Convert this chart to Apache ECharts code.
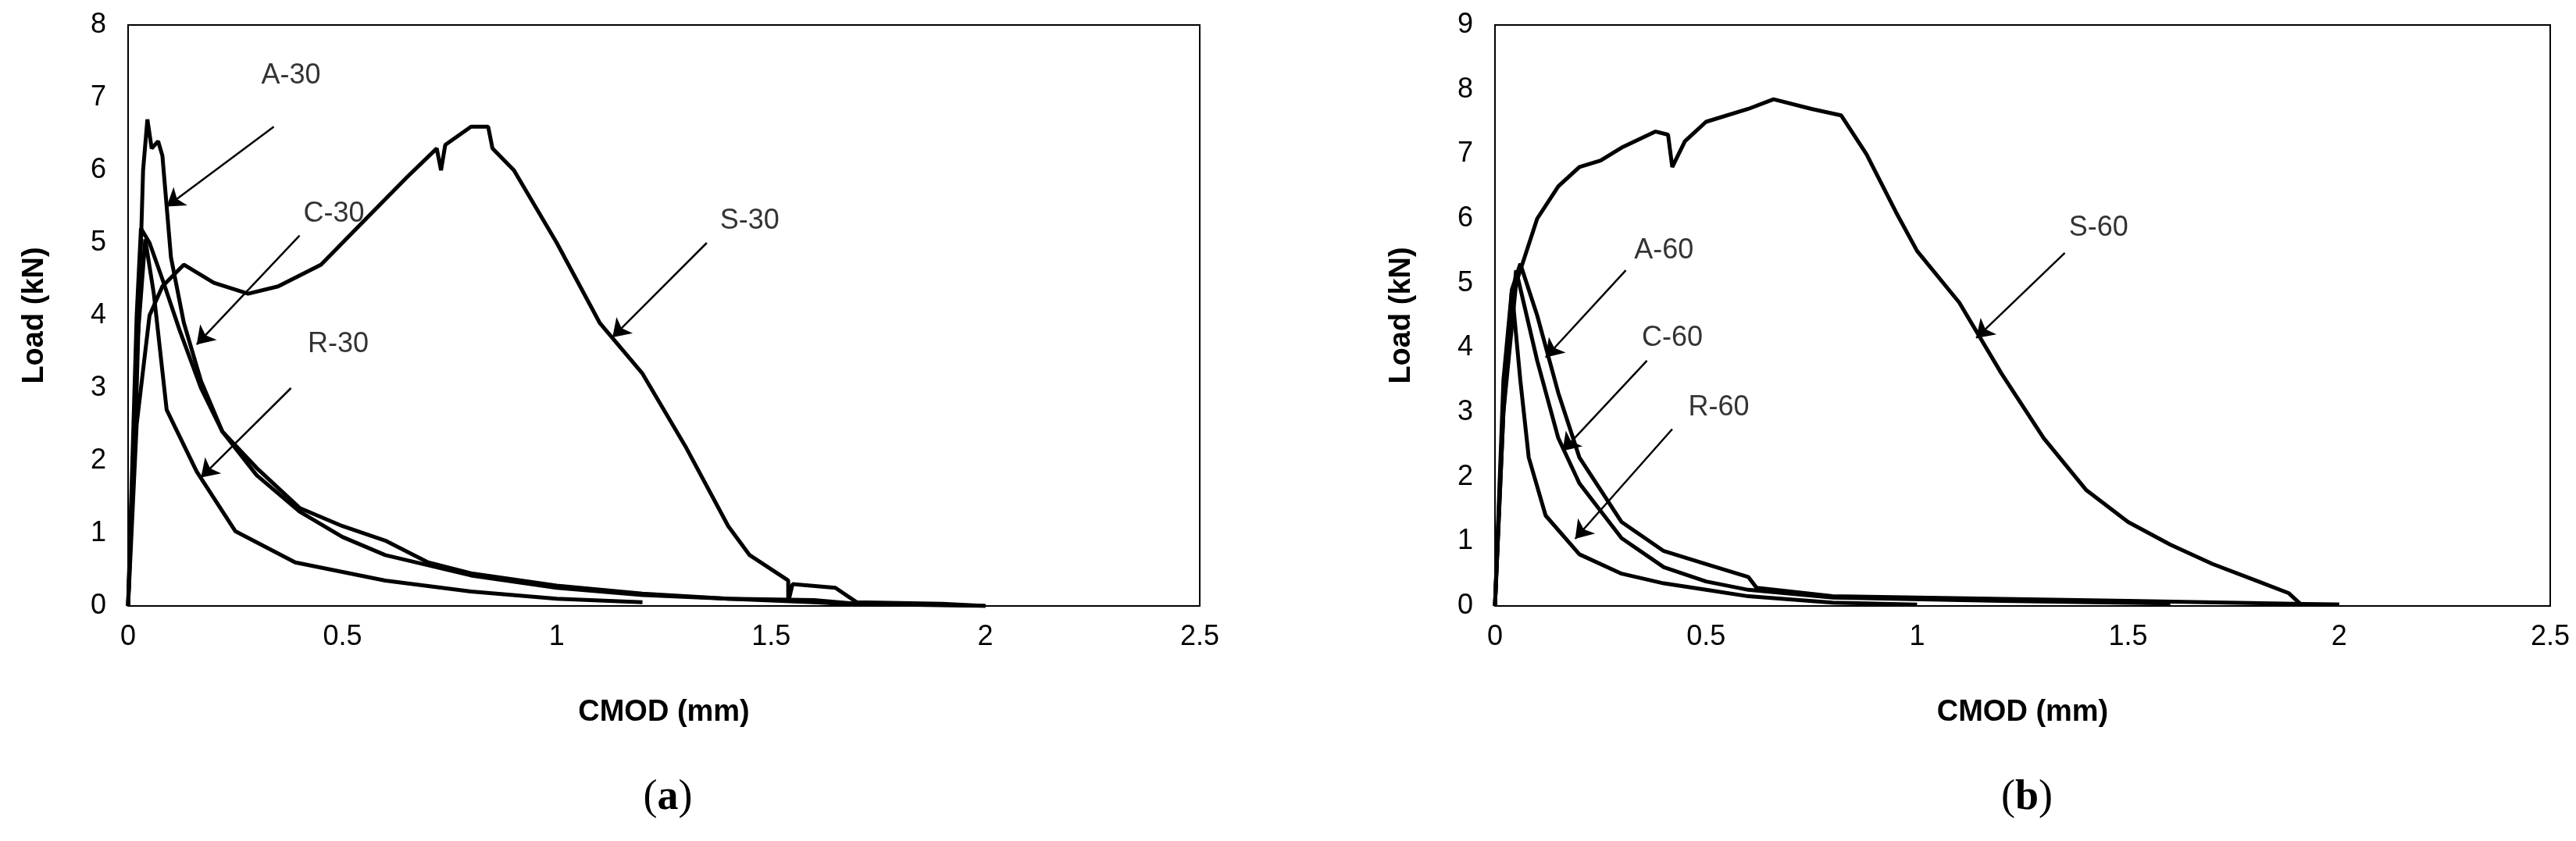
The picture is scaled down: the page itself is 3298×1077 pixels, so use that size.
<!DOCTYPE html>
<html>
<head>
<meta charset="utf-8">
<script src="https://cdn.jsdelivr.net/npm/echarts@6/dist/echarts.min.js"></script>
<style>html,body{margin:0;padding:0;background:#fff}#chart{width:3298px;height:1077px}</style>
</head>
<body>
<div id="chart"></div>
<script>
// panel (a): CMOD (mm), Load (kN)
let a30 = [[0,0],[0.02,3],[0.035,6],[0.045,6.7],[0.055,6.3],[0.07,6.4],[0.08,6.2],[0.09,5.5],[0.1,4.8],[0.13,3.9],[0.17,3.1],[0.22,2.4],[0.3,1.9],[0.4,1.35],[0.5,1.1],[0.6,0.9],[0.7,0.6],[0.8,0.45],[1.0,0.28],[1.2,0.17],[1.4,0.1],[1.6,0.08],[1.7,0.03],[2.0,0]];
let c30 = [[0,0],[0.02,4],[0.03,5.2],[0.05,5.0],[0.08,4.5],[0.12,3.8],[0.17,3.0],[0.22,2.4],[0.3,1.8],[0.4,1.3],[0.5,0.95],[0.6,0.7],[0.8,0.42],[1.0,0.25],[1.2,0.15],[1.4,0.1],[1.6,0.05],[1.7,0.02]];
let r30 = [[0,0],[0.02,3.5],[0.04,5.05],[0.06,4.3],[0.09,2.7],[0.16,1.85],[0.25,1.03],[0.39,0.6],[0.6,0.35],[0.8,0.2],[1.0,0.1],[1.2,0.05]];
let s30 = [[0,0],[0.02,2.5],[0.05,4.0],[0.08,4.4],[0.13,4.7],[0.2,4.45],[0.28,4.3],[0.35,4.4],[0.45,4.7],[0.55,5.3],[0.65,5.9],[0.72,6.3],[0.73,6.0],[0.74,6.35],[0.8,6.6],[0.84,6.6],[0.85,6.3],[0.9,6.0],[1.0,5.0],[1.1,3.9],[1.2,3.2],[1.3,2.2],[1.4,1.1],[1.45,0.7],[1.54,0.35],[1.54,0.05],[1.55,0.3],[1.65,0.25],[1.7,0.05],[1.9,0.03],[2.0,0]];
// panel (b)
let a60 = [[0,0],[0.02,3],[0.04,4.9],[0.06,5.3],[0.1,4.5],[0.15,3.3],[0.2,2.3],[0.3,1.3],[0.4,0.85],[0.5,0.65],[0.6,0.45],[0.62,0.28],[0.8,0.15],[1.0,0.13],[1.5,0.08],[2.0,0.02]];
let c60 = [[0,0],[0.02,3.2],[0.05,5.2],[0.1,3.8],[0.15,2.6],[0.2,1.9],[0.3,1.05],[0.4,0.6],[0.5,0.38],[0.6,0.25],[0.8,0.13],[1.2,0.08],[1.6,0.04]];
let r60 = [[0,0],[0.02,3.5],[0.04,4.9],[0.06,3.5],[0.08,2.3],[0.12,1.4],[0.2,0.8],[0.3,0.5],[0.4,0.35],[0.5,0.25],[0.6,0.15],[0.8,0.05],[1.0,0.02]];
let s60 = [[0,0],[0.02,3],[0.05,5],[0.1,6.0],[0.15,6.5],[0.2,6.8],[0.25,6.9],[0.3,7.1],[0.38,7.35],[0.41,7.3],[0.42,6.8],[0.45,7.2],[0.5,7.5],[0.6,7.7],[0.66,7.85],[0.75,7.7],[0.82,7.6],[0.88,7.0],[0.95,6.1],[1.0,5.5],[1.1,4.7],[1.2,3.6],[1.3,2.6],[1.4,1.8],[1.5,1.3],[1.6,0.95],[1.7,0.65],[1.8,0.4],[1.88,0.2],[1.91,0.02],[2.0,0.02]];

// annotations: [label, textX, textY, fromX, fromY, toX, toY]
let notesA = [['A-30',0.38,7.3,0.34,6.6,0.09,5.5],['C-30',0.48,5.4,0.40,5.1,0.16,3.6],['S-30',1.45,5.3,1.35,5.0,1.13,3.7],['R-30',0.49,3.6,0.38,3.0,0.17,1.77]];
let notesB = [['A-60',0.40,5.5,0.31,5.2,0.12,3.85],['C-60',0.42,4.15,0.36,3.8,0.16,2.4],['R-60',0.53,3.07,0.42,2.74,0.19,1.04],['S-60',1.43,5.85,1.35,5.47,1.14,4.15]];

let chart = echarts.init(document.getElementById('chart'));
let tickFont = {fontFamily: 'Liberation Sans Narrow, Liberation Sans, sans-serif', fontSize: 36, color: '#000'};
let nameFont = {fontFamily: 'Liberation Sans, sans-serif', fontSize: 38, fontWeight: 'bold', color: '#000'};

function curve(data, idx) {
  return {type: 'line', data: data, xAxisIndex: idx, yAxisIndex: idx, symbol: 'none',
          lineStyle: {color: '#000', width: 5}, silent: true};
}
function notes(list, idx) {
  return [{
    type: 'scatter', xAxisIndex: idx, yAxisIndex: idx, symbolSize: 0, silent: true,
    data: list.map(n => ({value: [n[1], n[2]], name: n[0]})),
    label: {show: true, formatter: '{b}', position: 'inside', fontFamily: 'Liberation Sans, sans-serif', fontSize: 36, color: '#000'}
  }, {
    type: 'line', xAxisIndex: idx, yAxisIndex: idx, data: [], silent: true,
    markLine: {silent: true, symbol: ['none', 'arrow'], symbolSize: 22, animation: false,
      lineStyle: {color: '#000', width: 2.5, type: 'solid'}, label: {show: false},
      data: list.map(n => [{coord: [n[3], n[4]]}, {coord: [n[5], n[6]]}])}
  }];
}
function yAxis(idx, max) {
  return {type: 'value', gridIndex: idx, min: 0, max: max, interval: 1,
    name: 'Load (kN)', nameLocation: 'middle', nameGap: 100, nameTextStyle: nameFont,
    axisLine: {show: true, lineStyle: {color: '#000', width: 2}}, axisTick: {show: false},
    splitLine: {show: false}, axisLabel: Object.assign({margin: 28}, tickFont)};
}
function xAxis(idx) {
  return {type: 'value', gridIndex: idx, min: 0, max: 2.5, interval: 0.5,
    name: 'CMOD (mm)', nameLocation: 'middle', nameGap: 118, nameTextStyle: nameFont,
    axisLine: {show: true, lineStyle: {color: '#000', width: 2}}, axisTick: {show: false},
    splitLine: {show: false}, axisLabel: Object.assign({margin: 22}, tickFont)};
}

chart.setOption({
  animation: false,
  backgroundColor: '#fff',
  title: [
    {text: '({b|a})', left: 850, top: 990, textAlign: 'center',
     textStyle: {fontFamily: 'Liberation Serif, serif', fontSize: 54, fontWeight: 'normal', color: '#000',
       rich: {b: {fontFamily: 'Liberation Serif, serif', fontSize: 54, fontWeight: 'bold', color: '#000'}}}},
    {text: '({b|b})', left: 2590, top: 990, textAlign: 'center',
     textStyle: {fontFamily: 'Liberation Serif, serif', fontSize: 54, fontWeight: 'normal', color: '#000',
       rich: {b: {fontFamily: 'Liberation Serif, serif', fontSize: 54, fontWeight: 'bold', color: '#000'}}}}
  ],
  grid: [
    {left: 164, width: 1372, top: 32, height: 744, show: true, borderColor: '#000', borderWidth: 2},
    {left: 1914, width: 1351, top: 32, height: 744, show: true, borderColor: '#000', borderWidth: 2}
  ],
  xAxis: [xAxis(0), xAxis(1)],
  yAxis: [yAxis(0, 8), yAxis(1, 9)],
  series: [
    curve(a30, 0), curve(c30, 0), curve(r30, 0), curve(s30, 0),
    curve(a60, 1), curve(c60, 1), curve(r60, 1), curve(s60, 1)
  ].concat(notes(notesA, 0), notes(notesB, 1))
});
</script>
</body>
</html>
